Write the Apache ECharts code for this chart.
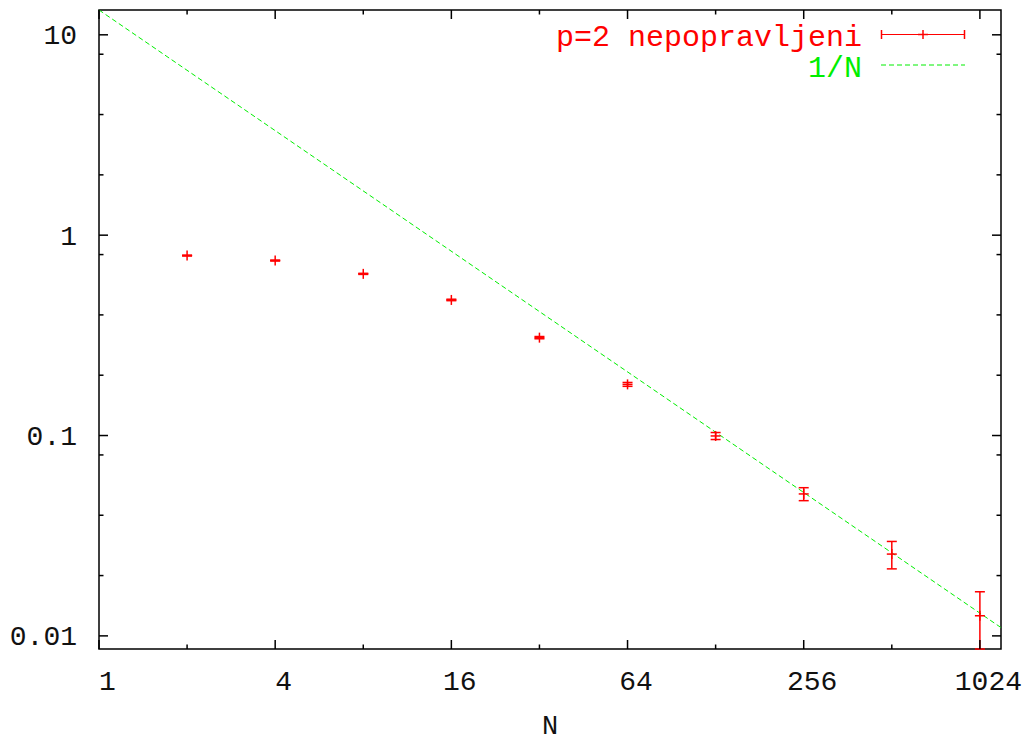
<!DOCTYPE html>
<html><head><meta charset="utf-8">
<script src="https://cdn.jsdelivr.net/npm/echarts@6/dist/echarts.min.js"></script>
<style>html,body{margin:0;padding:0;background:#fff}#c{width:1029px;height:742px}</style>
</head><body><div id="c"></div>
<script>
// ---- data ----
const N = [2, 4, 8, 16, 32, 64, 128, 256, 512, 1024];
const values = [0.791, 0.747, 0.641, 0.475, 0.308, 0.180, 0.0995, 0.0511, 0.0256, 0.0126];
const errors = [0.004, 0.004, 0.004, 0.004, 0.004, 0.004, 0.004, 0.0038, 0.004, 0.004];
const fitN = [1, 1209];
const fitY = [13.3, 0.011];
const xMajorTicks = [1, 4, 16, 64, 256, 1024];
const xTickLabels = ['1', '4', '16', '64', '256', '1024'];
const xMinorTicks = [2, 8, 32, 128, 512];
const yMajorTicks = [0.01, 0.1, 1, 10];
const yTickLabels = ['0.01', '0.1', '1', '10'];
const yMinorTicks = [0.02, 0.04, 0.08, 0.2, 0.4, 0.8, 2, 4, 8];
const xRange = [1, 1209];
const yRange = [0.0086, 13.3];
const seriesName = 'p=2 nepopravljeni';
const fitName = '1/N';

// ---- styles ----
const FONT = '"Liberation Mono","Courier New",monospace';
const RED = '#ff0000', GREEN = '#00ee00', INK = '#111';
const MAJ = 9, MIN = 4.5, AXW = 1.5;

const chart = echarts.init(document.getElementById('c'), null, {renderer: 'svg'});

function tickLine(x1, y1, x2, y2) {
  return {type: 'line', shape: {x1, y1, x2, y2}, style: {stroke: '#000', lineWidth: AXW}};
}

function xTickRender(len, labels) {
  return function (params, api) {
    const cs = params.coordSys;
    const px = api.coord([api.value(0), yRange[0]])[0];
    const b = cs.y + cs.height, t = cs.y;
    const ch = [tickLine(px, b, px, b - len), tickLine(px, t, px, t + len)];
    if (labels) ch.push({type: 'text', x: px + 8.5, y: b + 19,
      style: {text: labels[params.dataIndex], font: '28px ' + FONT, fill: INK, align: 'center', verticalAlign: 'top'}});
    return {type: 'group', children: ch};
  };
}
function yTickRender(len, labels) {
  return function (params, api) {
    const cs = params.coordSys;
    const py = api.coord([xRange[0], api.value(1)])[1];
    const l = cs.x, r = cs.x + cs.width;
    const ch = [tickLine(l, py, l + len, py), tickLine(r, py, r - len, py)];
    if (labels) ch.push({type: 'text', x: l - 22, y: py + 2,
      style: {text: labels[params.dataIndex], font: '28px ' + FONT, fill: INK, align: 'right', verticalAlign: 'middle'}});
    return {type: 'group', children: ch};
  };
}

const option = {
  animation: false,
  backgroundColor: '#fff',
  grid: {left: 99, top: 10, right: 28, bottom: 93, outerBoundsMode: 'none', containLabel: false,
    show: true, borderColor: '#000', borderWidth: AXW, backgroundColor: 'transparent'},
  xAxis: {
    type: 'log', logBase: 2, min: xRange[0], max: xRange[1],
    axisLabel: {show: false}, axisTick: {show: false}, axisLine: {show: false}, splitLine: {show: false},
    name: 'N', nameLocation: 'middle', nameGap: 66,
    nameTextStyle: {fontFamily: FONT, fontSize: 27, lineHeight: 24, color: INK}
  },
  yAxis: {
    type: 'log', logBase: 10, min: yRange[0], max: yRange[1],
    axisLabel: {show: false}, axisTick: {show: false}, axisLine: {show: false}, splitLine: {show: false}
  },
  series: [
    {type: 'custom', silent: true, data: xMajorTicks.map(v => [v, yRange[0]]), renderItem: xTickRender(MAJ, xTickLabels), clip: false, z: 5},
    {type: 'custom', silent: true, data: xMinorTicks.map(v => [v, yRange[0]]), renderItem: xTickRender(MIN, null), clip: false, z: 5},
    {type: 'custom', silent: true, data: yMajorTicks.map(v => [xRange[0], v]), renderItem: yTickRender(MAJ, yTickLabels), clip: false, z: 5},
    {type: 'custom', silent: true, data: yMinorTicks.map(v => [xRange[0], v]), renderItem: yTickRender(MIN, null), clip: false, z: 5},
    {
      name: fitName, type: 'line', data: fitN.map((n, i) => [n, fitY[i]]),
      showSymbol: false, silent: true,
      lineStyle: {color: GREEN, width: 1, type: [5, 3]}, z: 2
    },
    {
      name: seriesName, type: 'custom', silent: true,
      data: N.map((n, i) => [n, values[i], errors[i]]),
      renderItem: function (params, api) {
        const cs = params.coordSys;
        const x = api.value(0), y = api.value(1), e = api.value(2);
        const c = api.coord([x, y]);
        const hi = api.coord([x, y + e]);
        const lo = api.coord([x, y - e]);
        const loY = Math.min(lo[1], cs.y + cs.height);
        const hiY = Math.max(hi[1], cs.y);
        const st = {stroke: RED, lineWidth: 1.5};
        const w = 5;
        return {type: 'group', children: [
          {type: 'line', shape: {x1: c[0], y1: hiY, x2: c[0], y2: loY}, style: st},
          {type: 'line', shape: {x1: c[0] - w, y1: hiY, x2: c[0] + w, y2: hiY}, style: st},
          {type: 'line', shape: {x1: c[0] - w, y1: loY, x2: c[0] + w, y2: loY}, style: st},
          {type: 'line', shape: {x1: c[0] - w, y1: c[1], x2: c[0] + w, y2: c[1]}, style: st},
          {type: 'line', shape: {x1: c[0], y1: c[1] - w, x2: c[0], y2: c[1] + w}, style: st}
        ]};
      },
      z: 3
    }
  ],
  graphic: [
    {type: 'text', x: 862, y: 37.5, style: {text: seriesName, font: '30px ' + FONT, fill: RED, align: 'right', verticalAlign: 'middle'}},
    {type: 'text', x: 862, y: 68.5, style: {text: fitName, font: '30px ' + FONT, fill: GREEN, align: 'right', verticalAlign: 'middle'}},
    {type: 'line', shape: {x1: 881, y1: 34.5, x2: 965, y2: 34.5}, style: {stroke: RED, lineWidth: 1}},
    {type: 'line', shape: {x1: 881.5, y1: 30, x2: 881.5, y2: 39}, style: {stroke: RED, lineWidth: 1.5}},
    {type: 'line', shape: {x1: 964.5, y1: 30, x2: 964.5, y2: 39}, style: {stroke: RED, lineWidth: 1.5}},
    {type: 'line', shape: {x1: 923, y1: 30, x2: 923, y2: 39}, style: {stroke: RED, lineWidth: 1.5}},
    {type: 'line', shape: {x1: 918, y1: 34.5, x2: 928, y2: 34.5}, style: {stroke: RED, lineWidth: 1.5}},
    {type: 'line', shape: {x1: 881, y1: 65, x2: 965, y2: 65}, style: {stroke: GREEN, lineWidth: 1, lineDash: [5, 3]}}
  ]
};
chart.setOption(option);
</script></body></html>
